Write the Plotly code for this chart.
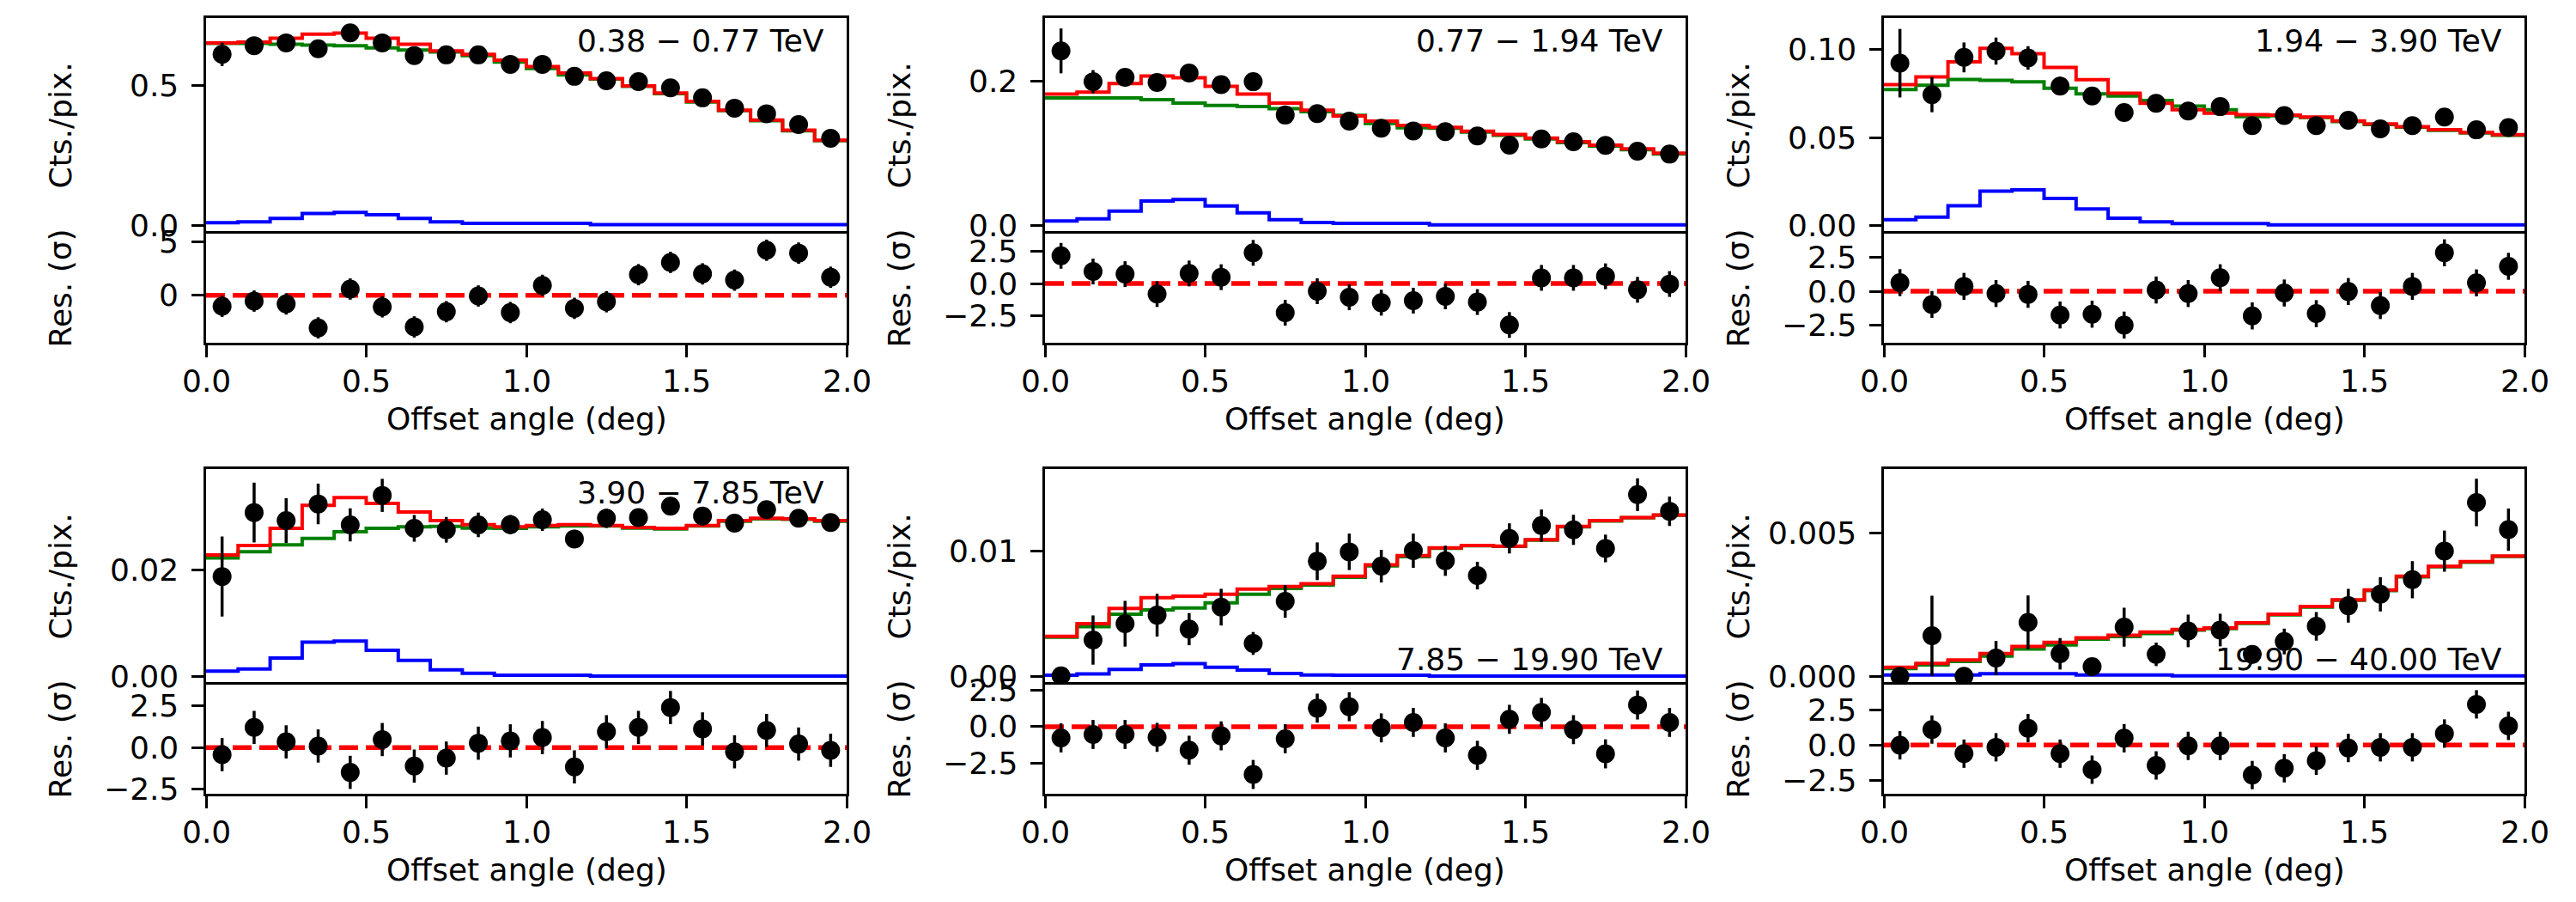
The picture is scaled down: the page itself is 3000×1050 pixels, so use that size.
import plotly.graph_objects as go

# ---------------- data ----------------
bin_edges = [0.0, 0.1, 0.2, 0.3, 0.4, 0.5, 0.6, 0.7, 0.8, 0.9, 1.0,
             1.1, 1.2, 1.3, 1.4, 1.5, 1.6, 1.7, 1.8, 1.9, 2.0]

energy_bands = ["0.38 \u2212 0.77 TeV", "0.77 \u2212 1.94 TeV", "1.94 \u2212 3.90 TeV",
                "3.90 \u2212 7.85 TeV", "7.85 \u2212 19.90 TeV", "19.90 \u2212 40.00 TeV"]

# panel 1: 0.38 - 0.77 TeV
counts_1 = [0.613, 0.644, 0.654, 0.633, 0.690, 0.654, 0.608, 0.611, 0.611, 0.577,
            0.577, 0.534, 0.518, 0.515, 0.493, 0.457, 0.420, 0.400, 0.361, 0.312]
errors_1 = [0.042, 0.020, 0.018, 0.017, 0.016, 0.015, 0.014, 0.012, 0.011, 0.010,
            0.010, 0.009, 0.009, 0.008, 0.007, 0.007, 0.006, 0.006, 0.006, 0.005]
total_1 = [0.654, 0.657, 0.671, 0.685, 0.689, 0.671, 0.649, 0.625, 0.613, 0.592,
           0.569, 0.546, 0.526, 0.500, 0.474, 0.444, 0.413, 0.377, 0.341, 0.305]
bkg_1 = [0.652, 0.652, 0.649, 0.646, 0.644, 0.636, 0.628, 0.621, 0.608, 0.585,
         0.562, 0.539, 0.524, 0.498, 0.472, 0.442, 0.411, 0.375, 0.339, 0.303]
src_1 = [0.009, 0.012, 0.025, 0.042, 0.046, 0.038, 0.025, 0.012, 0.007, 0.007,
         0.007, 0.007, 0.002, 0.002, 0.002, 0.002, 0.002, 0.002, 0.002, 0.002]
resid_1 = [-1.03, -0.54, -0.81, -3.06, 0.59, -1.08, -2.97, -1.54, -0.06, -1.62,
           0.94, -1.22, -0.60, 1.94, 3.10, 2.02, 1.43, 4.24, 3.97, 1.70]

# panel 2: 0.77 - 1.94 TeV
counts_2 = [0.2416, 0.199, 0.205, 0.198, 0.211, 0.195, 0.199, 0.153, 0.155, 0.1446,
            0.1347, 0.131, 0.130, 0.124, 0.1113, 0.120, 0.116, 0.111, 0.103, 0.099]
errors_2 = [0.031, 0.016, 0.012, 0.011, 0.010, 0.009, 0.008, 0.007, 0.006, 0.006,
            0.005, 0.005, 0.005, 0.004, 0.004, 0.004, 0.004, 0.004, 0.003, 0.003]
total_2 = [0.182, 0.1846, 0.1965, 0.207, 0.2044, 0.1925, 0.182, 0.1695, 0.1597, 0.1517,
           0.1446, 0.1386, 0.1359, 0.1307, 0.126, 0.1212, 0.116, 0.1113, 0.1062, 0.1003]
bkg_2 = [0.1767, 0.1767, 0.1767, 0.1743, 0.1695, 0.1663, 0.1648, 0.1616, 0.1577, 0.1525,
         0.1414, 0.1354, 0.1347, 0.1295, 0.1248, 0.1200, 0.1148, 0.1101, 0.1050, 0.0991]
src_2 = [0.0064, 0.0095, 0.0202, 0.0341, 0.0361, 0.0273, 0.0178, 0.0083, 0.0044, 0.0032,
         0.0032, 0.0032, 0.0012, 0.0012, 0.0012, 0.0012, 0.0012, 0.0012, 0.0012, 0.0012]
resid_2 = [2.15, 0.93, 0.73, -0.82, 0.78, 0.49, 2.38, -2.27, -0.60, -1.07,
           -1.49, -1.33, -1.00, -1.44, -3.22, 0.44, 0.44, 0.56, -0.49, -0.04]

# panel 3: 1.94 - 3.90 TeV
counts_3 = [0.0923, 0.0744, 0.0956, 0.0992, 0.0953, 0.0793, 0.0736, 0.0642, 0.0695, 0.0651,
            0.0676, 0.0568, 0.0625, 0.0568, 0.0598, 0.0549, 0.0568, 0.0617, 0.0544, 0.0557]
errors_3 = [0.0195, 0.010, 0.0085, 0.0077, 0.0067, 0.0053, 0.0045, 0.0040, 0.0035, 0.0030,
            0.0030, 0.0028, 0.0027, 0.0026, 0.0025, 0.0024, 0.0023, 0.0022, 0.0021, 0.0020]
total_3 = [0.0801, 0.0845, 0.0931, 0.1008, 0.0977, 0.0899, 0.0829, 0.0752, 0.0695, 0.0658,
           0.0638, 0.0630, 0.0627, 0.0617, 0.0594, 0.0577, 0.0562, 0.0544, 0.0529, 0.0516]
bkg_3 = [0.0773, 0.0798, 0.0831, 0.0826, 0.0817, 0.0780, 0.0749, 0.0736, 0.0711, 0.0679,
         0.0658, 0.0619, 0.0624, 0.0614, 0.0591, 0.0574, 0.0559, 0.0541, 0.0526, 0.0513]
src_3 = [0.0032, 0.0047, 0.0112, 0.0195, 0.0202, 0.0153, 0.0093, 0.0041, 0.0020, 0.0011,
         0.0011, 0.0011, 0.0003, 0.0003, 0.0003, 0.0003, 0.0003, 0.0003, 0.0003, 0.0003]
resid_3 = [0.64, -0.98, 0.36, -0.17, -0.23, -1.76, -1.70, -2.51, 0.09, -0.17,
           1.00, -1.83, -0.13, -1.66, -0.02, -1.06, 0.36, 2.85, 0.62, 1.85]

# panel 4: 3.90 - 7.85 TeV
counts_4 = [0.01876, 0.03075, 0.02924, 0.03236, 0.02844, 0.03397, 0.02779, 0.02752, 0.02844, 0.02849,
            0.0294, 0.0258, 0.02967, 0.0298, 0.03193, 0.0301, 0.02876, 0.03129, 0.02967, 0.02887]
errors_4 = [0.0075, 0.0056, 0.0042, 0.0038, 0.0031, 0.0031, 0.0025, 0.0024, 0.0023, 0.0018,
            0.0021, 0.0017, 0.0018, 0.0017, 0.0017, 0.0017, 0.0016, 0.0016, 0.0016, 0.0015]
total_4 = [0.02279, 0.02456, 0.02779, 0.0321, 0.03355, 0.03247, 0.03086, 0.02924, 0.02849, 0.02806,
           0.02833, 0.02849, 0.02833, 0.02795, 0.02779, 0.02833, 0.02924, 0.02967, 0.02957, 0.02924]
bkg_4 = [0.02226, 0.02339, 0.02468, 0.0259, 0.02714, 0.02779, 0.02806, 0.02817, 0.02784, 0.0278,
         0.02807, 0.02823, 0.02823, 0.02785, 0.02769, 0.02823, 0.02914, 0.02957, 0.02947, 0.02914]
src_4 = [0.00102, 0.00145, 0.00349, 0.00645, 0.00666, 0.00494, 0.00306, 0.00129, 0.00065, 0.00026,
         0.00026, 0.00026, 0.0001, 0.0001, 0.0001, 0.0001, 0.0001, 0.0001, 0.0001, 0.0001]
resid_4 = [-0.43, 1.21, 0.34, 0.09, -1.50, 0.48, -1.12, -0.64, 0.26, 0.40,
           0.60, -1.17, 0.95, 1.21, 2.41, 1.12, -0.26, 1.03, 0.21, -0.17]

# panel 5: 7.85 - 19.90 TeV
counts_5 = [0.00004, 0.00289, 0.00419, 0.00487, 0.00376, 0.00551, 0.00262, 0.00597, 0.00916, 0.00991,
            0.00877, 0.0100, 0.0092, 0.00802, 0.01098, 0.0120, 0.01166, 0.01018, 0.01446, 0.01314]
errors_5 = [0.0, 0.00196, 0.00182, 0.0017, 0.00128, 0.00146, 0.00091, 0.0013, 0.0015, 0.00145,
            0.0013, 0.00136, 0.0012, 0.0011, 0.0012, 0.00128, 0.0012, 0.0011, 0.0013, 0.00117]
total_5 = [0.00318, 0.00419, 0.0054, 0.00626, 0.00638, 0.00654, 0.00695, 0.00715, 0.00738, 0.00797,
           0.00888, 0.00961, 0.01022, 0.01041, 0.01036, 0.01087, 0.01193, 0.01239, 0.01264, 0.01285]
bkg_5 = [0.00311, 0.00396, 0.00494, 0.00528, 0.00544, 0.00585, 0.00654, 0.00699, 0.00727, 0.00788,
         0.00879, 0.00952, 0.0102, 0.01039, 0.01034, 0.01085, 0.01191, 0.01237, 0.01262, 0.01283]
src_5 = [0.00009, 0.0002, 0.00055, 0.00091, 0.00102, 0.00072, 0.0005, 0.00023, 0.00011, 0.00009,
         0.00009, 0.00009, 0.00002, 0.00002, 0.00002, 0.00002, 0.00002, 0.00002, 0.00002, 0.00002]
resid_5 = [-0.77, -0.53, -0.53, -0.73, -1.62, -0.63, -3.29, -0.83, 1.28, 1.38,
           -0.08, 0.30, -0.77, -1.97, 0.51, 0.99, -0.20, -1.87, 1.50, 0.30]

# panel 6: 19.90 - 40.00 TeV
counts_6 = [0.0, 0.00142, 0.0, 0.00064, 0.00189, 0.00079, 0.00034, 0.00172, 0.00077, 0.00159,
            0.00162, 0.00077, 0.00122, 0.00175, 0.00247, 0.00287, 0.00338, 0.00438, 0.00608, 0.00513]
errors_6 = [0.0, 0.0014, 0.0, 0.0006, 0.00094, 0.00055, 0.0003, 0.00068, 0.00041, 0.00057,
            0.00057, 0.00032, 0.00045, 0.0005, 0.00059, 0.0006, 0.00065, 0.00072, 0.00083, 0.00074]
total_6 = [0.00032, 0.00045, 0.00057, 0.0008, 0.00105, 0.00119, 0.00135, 0.00144, 0.00155, 0.00164,
           0.00169, 0.00187, 0.00217, 0.00244, 0.00268, 0.00302, 0.0035, 0.00385, 0.00401, 0.00421]
bkg_6 = [0.00027, 0.0004, 0.00052, 0.00071, 0.00096, 0.0011, 0.0013, 0.00139, 0.0015, 0.00162,
         0.00167, 0.00185, 0.00215, 0.00242, 0.00266, 0.003, 0.00348, 0.00383, 0.00399, 0.00419]
src_6 = [0.00005, 0.00005, 0.00005, 0.00009, 0.00009, 0.00009, 0.00005, 0.00005, 0.00005, 0.00002,
         0.00002, 0.00002, 0.00002, 0.00002, 0.00002, 0.00002, 0.00002, 0.00002, 0.00002, 0.00002]
resid_6 = [-0.02, 1.09, -0.61, -0.16, 1.19, -0.61, -1.74, 0.48, -1.44, -0.06,
           -0.06, -2.12, -1.64, -1.11, -0.21, -0.16, -0.16, 0.81, 2.87, 1.35]

# axis settings per panel
main_ranges = [[-0.030, 0.743], [-0.011, 0.287], [-0.0047, 0.118],
               [-0.0015, 0.0389], [-0.00066, 0.0165], [-0.00029, 0.00725]]
main_ticks = [([0.0, 0.5], ["0.0", "0.5"]), ([0.0, 0.2], ["0.0", "0.2"]),
              ([0.0, 0.05, 0.10], ["0.00", "0.05", "0.10"]), ([0.0, 0.02], ["0.00", "0.02"]),
              ([0.0, 0.01], ["0.00", "0.01"]), ([0.0, 0.005], ["0.000", "0.005"])]
res_ranges = [[-4.46, 5.80], [-4.6, 3.87], [-3.82, 4.27],
              [-2.79, 3.79], [-4.62, 2.90], [-3.44, 4.26]]
res_ticks_std = ([-2.5, 0.0, 2.5], ["\u22122.5", "0.0", "2.5"])
res_ticks = [([0, 5], ["0", "5"]), res_ticks_std, res_ticks_std,
             res_ticks_std, res_ticks_std, res_ticks_std]
x_ticks = ([0.0, 0.5, 1.0, 1.5, 2.0], ["0.0", "0.5", "1.0", "1.5", "2.0"])

# ---------------- figure ----------------
PAGE_MARGIN = 8          # default <body> margin of the html page
W, H = 3000 - PAGE_MARGIN, 1050 - PAGE_MARGIN
FONT = "DejaVu Sans"
FS = 36
TXT = dict(family=FONT, size=FS, color="black")

panels = [
    (counts_1, errors_1, total_1, bkg_1, src_1, resid_1),
    (counts_2, errors_2, total_2, bkg_2, src_2, resid_2),
    (counts_3, errors_3, total_3, bkg_3, src_3, resid_3),
    (counts_4, errors_4, total_4, bkg_4, src_4, resid_4),
    (counts_5, errors_5, total_5, bkg_5, src_5, resid_5),
    (counts_6, errors_6, total_6, bkg_6, src_6, resid_6),
]

centers = [(a + b) / 2 for a, b in zip(bin_edges[:-1], bin_edges[1:])]

# layout, in screen pixels of the 3000x1050 picture
col_left = [240, 1217, 2194]
ax_w = 746
row_main_top = [21, 546]
row_main_bot = [272, 797]
row_res_bot = [399, 924]
YLAB_GAP = 31       # axis line -> right edge of y tick labels
XLAB_DROP = 44.5    # axis line -> centre of x tick labels


def px(x):
    return (x - PAGE_MARGIN) / W


def py(y):
    return 1 - (y - PAGE_MARGIN) / H


fig = go.Figure()
layout = dict(width=W, height=H, margin=dict(l=0, r=0, t=0, b=0),
              paper_bgcolor="white", plot_bgcolor="white", showlegend=False,
              font=TXT)
annotations = []

axis_common = dict(showline=True, mirror=True, linecolor="black", linewidth=2.5,
                   showgrid=False, zeroline=False, ticklen=14, tickwidth=2.5,
                   tickcolor="black", showticklabels=False)


def ytick_labels(yref, left, vals, texts):
    for v, t in zip(vals, texts):
        annotations.append(dict(text=t, x=px(left - YLAB_GAP), y=v, xref="paper", yref=yref,
                                xanchor="right", yanchor="middle", showarrow=False,
                                font=TXT, borderpad=0))


for i, (cnt, err, tot, bkg, src, res) in enumerate(panels):
    r, c = divmod(i, 3)
    left = col_left[c]
    right = left + ax_w
    mt, mb, rb = row_main_top[r], row_main_bot[r], row_res_bot[r]
    nm = 2 * i + 1
    nr = 2 * i + 2
    xm, ym = f"x{nm}", f"y{nm}"
    xr, yr = f"x{nr}", f"y{nr}"

    # main x-axis: only the top frame line (bottom frame comes from the residual axes)
    layout[f"xaxis{nm}"] = dict(axis_common, domain=[px(left), px(right)], anchor=ym,
                                range=[0, 2], ticks="", side="top", mirror=False)
    layout[f"yaxis{nm}"] = dict(axis_common, domain=[py(mb), py(mt)], anchor=xm,
                                range=main_ranges[i], ticks="outside",
                                tickvals=main_ticks[i][0])
    layout[f"xaxis{nr}"] = dict(axis_common, domain=[px(left), px(right)], anchor=yr,
                                range=[0, 2], ticks="outside", tickvals=x_ticks[0])
    layout[f"yaxis{nr}"] = dict(axis_common, domain=[py(rb), py(mb)], anchor=xr,
                                range=res_ranges[i], ticks="outside",
                                tickvals=res_ticks[i][0])

    # tick labels, placed on the axes' own scales
    ytick_labels(ym, left, *main_ticks[i])
    ytick_labels(yr, left, *res_ticks[i])
    for v, t in zip(*x_ticks):
        annotations.append(dict(text=t, x=v, y=py(rb + XLAB_DROP), xref=xr, yref="paper",
                                xanchor="center", yanchor="middle", showarrow=False,
                                font=TXT, borderpad=0))

    # model step histograms
    for vals, colr in ((bkg, "#008000"), (tot, "#ff0000"), (src, "#0000ff")):
        fig.add_trace(go.Scatter(x=bin_edges, y=list(vals) + [vals[-1]], mode="lines",
                                 line=dict(shape="hv", color=colr, width=4),
                                 xaxis=xm, yaxis=ym, hoverinfo="skip"))
    # data points
    fig.add_trace(go.Scatter(x=centers, y=cnt, mode="markers",
                             marker=dict(color="black", size=22),
                             error_y=dict(type="data", array=err, color="black",
                                          thickness=3.5, width=0),
                             xaxis=xm, yaxis=ym))
    # residuals
    fig.add_trace(go.Scatter(x=[bin_edges[0], bin_edges[-1]], y=[0, 0], mode="lines",
                             line=dict(color="#ff0000", width=5.5, dash="22px,9px"),
                             xaxis=xr, yaxis=yr, hoverinfo="skip"))
    fig.add_trace(go.Scatter(x=centers, y=res, mode="markers",
                             marker=dict(color="black", size=22),
                             error_y=dict(type="constant", value=1.0, color="black",
                                          thickness=3.5, width=0),
                             xaxis=xr, yaxis=yr))

    # energy band label
    ty = mt + 27 if i < 4 else mb - 30
    annotations.append(dict(text=energy_bands[i], x=px(right - 25), y=py(ty),
                            xref="paper", yref="paper", xanchor="right", yanchor="middle",
                            showarrow=False, font=TXT, borderpad=0))
    # axis titles
    annotations.append(dict(text="Cts./pix.", x=px(left - 170), y=py((mt + mb) / 2),
                            xref="paper", yref="paper", xanchor="center", yanchor="middle",
                            textangle=-90, showarrow=False, font=TXT))
    annotations.append(dict(text="Res. (\u03c3)", x=px(left - 170), y=py((mb + rb) / 2),
                            xref="paper", yref="paper", xanchor="center", yanchor="middle",
                            textangle=-90, showarrow=False, font=TXT))
    annotations.append(dict(text="Offset angle (deg)", x=px(left + ax_w / 2), y=py(rb + 88),
                            xref="paper", yref="paper", xanchor="center", yanchor="middle",
                            showarrow=False, font=TXT))

layout["annotations"] = annotations
fig.update_layout(**layout)
fig.write_html("out.html")
